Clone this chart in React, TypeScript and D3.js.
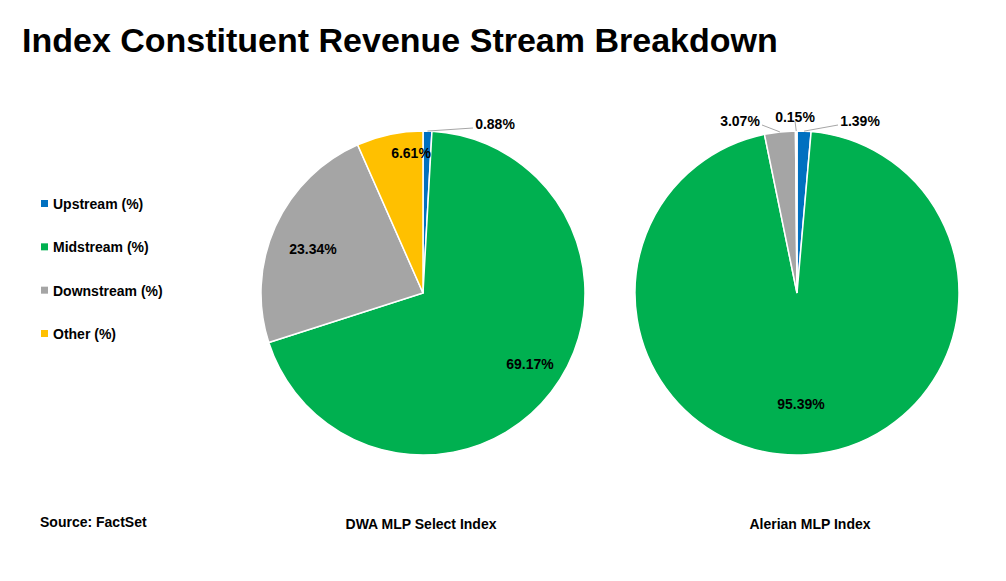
import React from "react";
import * as d3 from "d3";

const categories = ["Upstream (%)", "Midstream (%)", "Downstream (%)", "Other (%)"];
const colors = ["#0070C0", "#00B050", "#A5A5A5", "#FFC000"];
const dwaValues = [0.88, 69.17, 23.34, 6.61];
const alerianValues = [1.39, 95.39, 3.07, 0.15];
const indexNames = ["DWA MLP Select Index", "Alerian MLP Index"];

// label placement [x, y, leader?] relative to pie centre
const dwaLabels: [number, number, boolean][] = [
  [72, -169, true],
  [107, 71, false],
  [-110, -44, false],
  [-12, -140, false],
];
const alerianLabels: [number, number, boolean][] = [
  [63, -172, true],
  [4, 111, false],
  [-57, -172, true],
  [-2, -176, true],
];

const R = 162;

function Pie({ values, cx, cy, labels, name, nameX }: any) {
  const pie = d3.pie<number>().sort(null).value((d) => d);
  const arc = d3.arc<d3.PieArcDatum<number>>().innerRadius(0).outerRadius(R);
  const arcs = pie(values);
  return (
    <g>
      <g transform={`translate(${cx},${cy})`}>
        {arcs.map((a, i) => (
          <path key={i} d={arc(a) || ""} fill={colors[i]} stroke="#fff" strokeWidth={1.5} />
        ))}
        {arcs.map((a, i) => {
          const [lx, ly, leader] = labels[i];
          const m = (a.startAngle + a.endAngle) / 2;
          const ex = Math.sin(m) * R;
          const ey = -Math.cos(m) * R;
          const tx = lx + (lx > 10 ? -22 : lx < -10 ? 22 : 0);
          return (
            <g key={"l" + i}>
              {leader && (
                <line x1={ex} y1={ey} x2={tx} y2={ly + 4} stroke="#A6A6A6" strokeWidth={1} />
              )}
              <text x={lx} y={ly} textAnchor="middle" dy="0.35em" fontSize={14} fontWeight="bold" fill="#000">
                {values[i].toFixed(2)}%
              </text>
            </g>
          );
        })}
      </g>
      <text x={nameX} y={529} textAnchor="middle" fontSize={14} fontWeight="bold">{name}</text>
    </g>
  );
}

export default function App() {
  const legendY = d3.scalePoint<string>().domain(categories).range([204, 334]);
  return (
    <svg width={1006} height={581} style={{ position: "absolute", left: 0, top: 0 }}
      fontFamily="'Liberation Sans', Arial, sans-serif">
      <rect width={1006} height={581} fill="#fff" />
      <text x={22} y={52} fontSize={34} fontWeight="bold">Index Constituent Revenue Stream Breakdown</text>
      {categories.map((c, i) => (
        <g key={c}>
          <rect x={41} y={legendY(c)! - 4} width={7} height={7} fill={colors[i]} />
          <text x={53} y={legendY(c)!} dy="0.35em" fontSize={14} fontWeight="bold">{c}</text>
        </g>
      ))}
      <Pie values={dwaValues} cx={423} cy={293} labels={dwaLabels} name={indexNames[0]} nameX={421} />
      <Pie values={alerianValues} cx={797} cy={293} labels={alerianLabels} name={indexNames[1]} nameX={810} />
      <text x={40} y={527} fontSize={14} fontWeight="bold">Source: FactSet</text>
    </svg>
  );
}
